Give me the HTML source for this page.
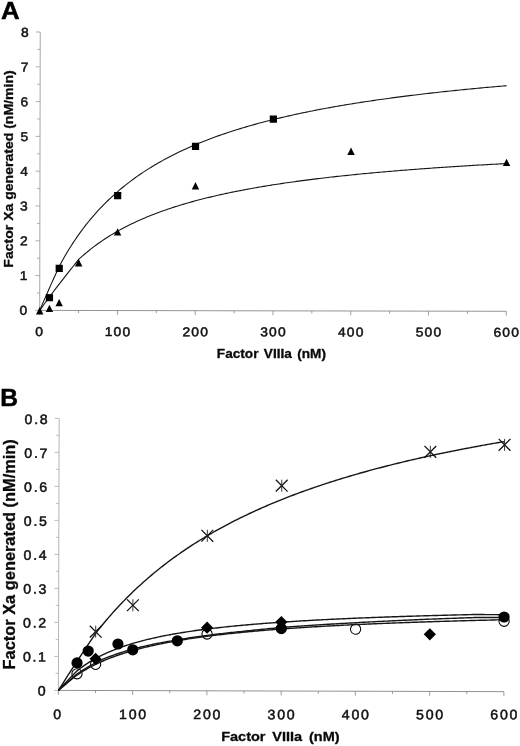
<!DOCTYPE html>
<html lang="en"><head><meta charset="utf-8"><title>Figure</title>
<style>html,body{margin:0;padding:0;background:#fff}svg{display:block}</style></head>
<body>
<svg width="520" height="746" viewBox="0 0 520 746">
<rect width="520" height="746" fill="#fff"/>
<g transform="rotate(0.11 39.7 310.4)">
<g fill="none">
<path d="M39.70 32.00V310.40" stroke="#9c9c9c" stroke-width="0.9"/>
<path d="M39.30 310.40H506.26" stroke="#888" stroke-width="0.9"/>
<path d="M35.30 310.40H39.70M36.80 293.00H39.70M35.30 275.60H39.70M36.80 258.20H39.70M35.30 240.80H39.70M36.80 223.40H39.70M35.30 206.00H39.70M36.80 188.60H39.70M35.30 171.20H39.70M36.80 153.80H39.70M35.30 136.40H39.70M36.80 119.00H39.70M35.30 101.60H39.70M36.80 84.20H39.70M35.30 66.80H39.70M36.80 49.40H39.70M35.30 32.00H39.70" stroke="#9c9c9c" stroke-width="0.8"/>
<path d="M39.70 310.40v4.4M78.58 310.40v2.6M117.46 310.40v4.4M156.34 310.40v2.6M195.22 310.40v4.4M234.10 310.40v2.6M272.98 310.40v4.4M311.86 310.40v2.6M350.74 310.40v4.4M389.62 310.40v2.6M428.50 310.40v4.4M467.38 310.40v2.6M506.26 310.40v4.4" stroke="#888" stroke-width="0.8"/>
</g>
<g font-family="Liberation Sans, Arial, Helvetica, sans-serif">
<text transform="translate(28.45 314.80) scale(1.08 1)" font-size="12.8" text-anchor="end" fill="#111" letter-spacing="1.065" stroke="#111" stroke-width="0.5" stroke-linejoin="round">0</text>
<text transform="translate(28.55 280.05) scale(1.08 1)" font-size="12.8" text-anchor="end" fill="#111" letter-spacing="1.065" stroke="#111" stroke-width="0.5" stroke-linejoin="round">1</text>
<text transform="translate(28.65 245.30) scale(1.08 1)" font-size="12.8" text-anchor="end" fill="#111" letter-spacing="1.065" stroke="#111" stroke-width="0.5" stroke-linejoin="round">2</text>
<text transform="translate(28.75 210.55) scale(1.08 1)" font-size="12.8" text-anchor="end" fill="#111" letter-spacing="1.065" stroke="#111" stroke-width="0.5" stroke-linejoin="round">3</text>
<text transform="translate(28.85 175.80) scale(1.08 1)" font-size="12.8" text-anchor="end" fill="#111" letter-spacing="1.065" stroke="#111" stroke-width="0.5" stroke-linejoin="round">4</text>
<text transform="translate(28.95 141.05) scale(1.08 1)" font-size="12.8" text-anchor="end" fill="#111" letter-spacing="1.065" stroke="#111" stroke-width="0.5" stroke-linejoin="round">5</text>
<text transform="translate(29.05 106.30) scale(1.08 1)" font-size="12.8" text-anchor="end" fill="#111" letter-spacing="1.065" stroke="#111" stroke-width="0.5" stroke-linejoin="round">6</text>
<text transform="translate(29.15 71.55) scale(1.08 1)" font-size="12.8" text-anchor="end" fill="#111" letter-spacing="1.065" stroke="#111" stroke-width="0.5" stroke-linejoin="round">7</text>
<text transform="translate(29.25 36.80) scale(1.08 1)" font-size="12.8" text-anchor="end" fill="#111" letter-spacing="1.065" stroke="#111" stroke-width="0.5" stroke-linejoin="round">8</text>
<text transform="translate(39.78 336.00) scale(1.08 1)" font-size="12.8" text-anchor="middle" fill="#111" letter-spacing="1.065" stroke="#111" stroke-width="0.5" stroke-linejoin="round">0</text>
<text transform="translate(118.03 335.97) scale(1.08 1)" font-size="12.8" text-anchor="middle" fill="#111" letter-spacing="1.065" stroke="#111" stroke-width="0.5" stroke-linejoin="round">100</text>
<text transform="translate(195.79 335.93) scale(1.08 1)" font-size="12.8" text-anchor="middle" fill="#111" letter-spacing="1.065" stroke="#111" stroke-width="0.5" stroke-linejoin="round">200</text>
<text transform="translate(273.56 335.90) scale(1.08 1)" font-size="12.8" text-anchor="middle" fill="#111" letter-spacing="1.065" stroke="#111" stroke-width="0.5" stroke-linejoin="round">300</text>
<text transform="translate(351.31 335.87) scale(1.08 1)" font-size="12.8" text-anchor="middle" fill="#111" letter-spacing="1.065" stroke="#111" stroke-width="0.5" stroke-linejoin="round">400</text>
<text transform="translate(429.07 335.83) scale(1.08 1)" font-size="12.8" text-anchor="middle" fill="#111" letter-spacing="1.065" stroke="#111" stroke-width="0.5" stroke-linejoin="round">500</text>
<text transform="translate(506.83 335.80) scale(1.08 1)" font-size="12.8" text-anchor="middle" fill="#111" letter-spacing="1.065" stroke="#111" stroke-width="0.5" stroke-linejoin="round">600</text>
</g>
<path d="M39.70 310.40L41.64 305.85L43.59 301.34L45.53 296.86L47.48 292.41L49.42 288.00L51.36 283.62L53.31 279.27L55.25 274.94L57.20 270.64L59.14 266.37L61.08 262.73L63.03 259.20L64.97 255.79L66.92 252.47L68.86 249.25L70.80 246.13L72.75 243.10L74.69 240.15L76.64 237.28L78.58 234.50L80.52 231.79L82.47 229.15L84.41 226.58L86.36 224.08L88.30 221.65L90.24 219.27L92.19 216.96L94.13 214.70L96.08 212.50L98.02 210.36L99.96 208.26L101.91 206.21L103.85 204.22L105.80 202.26L107.74 200.36L109.68 198.49L111.63 196.67L113.57 194.89L115.52 193.14L117.46 191.44L119.40 189.77L121.35 188.14L123.29 186.54L125.24 184.97L127.18 183.44L129.12 181.93L131.07 180.46L133.01 179.02L134.96 177.60L136.90 176.21L138.84 174.85L140.79 173.52L142.73 172.21L144.68 170.93L146.62 169.66L148.56 168.43L150.51 167.21L152.45 166.02L154.40 164.85L156.34 163.70L158.28 162.57L160.23 161.46L162.17 160.37L164.12 159.29L166.06 158.24L168.00 157.20L169.95 156.18L171.89 155.18L173.84 154.20L175.78 153.23L177.72 152.27L179.67 151.33L181.61 150.41L183.56 149.50L185.50 148.61L187.44 147.73L189.39 146.86L191.33 146.00L193.28 145.16L195.22 144.34L197.16 143.52L199.11 142.72L201.05 141.92L203.00 141.14L204.94 140.38L206.88 139.62L208.83 138.87L210.77 138.13L212.72 137.41L214.66 136.69L216.60 135.99L218.55 135.29L220.49 134.61L222.44 133.93L224.38 133.26L226.32 132.60L228.27 131.95L230.21 131.31L232.16 130.68L234.10 130.05L236.04 129.44L237.99 128.83L239.93 128.23L241.88 127.64L243.82 127.05L245.76 126.47L247.71 125.90L249.65 125.34L251.60 124.78L253.54 124.23L255.48 123.69L257.43 123.15L259.37 122.62L261.32 122.10L263.26 121.58L265.20 121.07L267.15 120.57L269.09 120.07L271.04 119.57L272.98 119.08L274.92 118.60L276.87 118.13L278.81 117.66L280.76 117.19L282.70 116.73L284.64 116.27L286.59 115.82L288.53 115.38L290.48 114.94L292.42 114.50L294.36 114.07L296.31 113.65L298.25 113.22L300.20 112.81L302.14 112.39L304.08 111.99L306.03 111.58L307.97 111.18L309.92 110.79L311.86 110.40L313.80 110.01L315.75 109.63L317.69 109.25L319.64 108.87L321.58 108.50L323.52 108.13L325.47 107.77L327.41 107.41L329.36 107.05L331.30 106.70L333.24 106.35L335.19 106.00L337.13 105.66L339.08 105.32L341.02 104.98L342.96 104.65L344.91 104.32L346.85 103.99L348.80 103.66L350.74 103.34L352.68 103.03L354.63 102.71L356.57 102.40L358.52 102.09L360.46 101.78L362.40 101.48L364.35 101.18L366.29 100.88L368.24 100.58L370.18 100.29L372.12 100.00L374.07 99.71L376.01 99.43L377.96 99.15L379.90 98.87L381.84 98.59L383.79 98.31L385.73 98.04L387.68 97.77L389.62 97.50L391.56 97.24L393.51 96.97L395.45 96.71L397.40 96.45L399.34 96.20L401.28 95.94L403.23 95.69L405.17 95.44L407.12 95.19L409.06 94.95L411.00 94.70L412.95 94.46L414.89 94.22L416.84 93.98L418.78 93.74L420.72 93.51L422.67 93.28L424.61 93.05L426.56 92.82L428.50 92.59L430.44 92.36L432.39 92.14L434.33 91.92L436.28 91.70L438.22 91.48L440.16 91.26L442.11 91.05L444.05 90.84L446.00 90.62L447.94 90.41L449.88 90.21L451.83 90.00L453.77 89.79L455.72 89.59L457.66 89.39L459.60 89.19L461.55 88.99L463.49 88.79L465.44 88.59L467.38 88.40L469.32 88.20L471.27 88.01L473.21 87.82L475.16 87.63L477.10 87.44L479.04 87.26L480.99 87.07L482.93 86.89L484.88 86.71L486.82 86.52L488.76 86.34L490.71 86.16L492.65 85.99L494.60 85.81L496.54 85.64L498.48 85.46L500.43 85.29L502.37 85.12L504.32 84.95L506.26 84.78" stroke="#161616" stroke-width="1.1" fill="none" stroke-linejoin="round"/>
<path d="M39.70 310.40L41.64 307.66L43.59 304.95L45.53 302.26L47.48 299.59L49.42 296.95L51.36 294.33L53.31 291.73L55.25 289.15L57.20 286.59L59.14 284.05L61.08 281.52L63.03 279.01L64.97 276.51L66.92 274.03L68.86 271.56L70.80 269.10L72.75 266.66L74.69 264.22L76.64 261.80L78.58 259.39L80.52 257.60L82.47 255.85L84.41 254.15L86.36 252.50L88.30 250.89L90.24 249.33L92.19 247.80L94.13 246.31L96.08 244.87L98.02 243.45L99.96 242.08L101.91 240.73L103.85 239.42L105.80 238.14L107.74 236.89L109.68 235.67L111.63 234.48L113.57 233.31L115.52 232.17L117.46 231.06L119.40 229.97L121.35 228.90L123.29 227.86L125.24 226.84L127.18 225.84L129.12 224.86L131.07 223.90L133.01 222.96L134.96 222.04L136.90 221.14L138.84 220.25L140.79 219.39L142.73 218.54L144.68 217.70L146.62 216.89L148.56 216.09L150.51 215.30L152.45 214.53L154.40 213.77L156.34 213.02L158.28 212.29L160.23 211.57L162.17 210.87L164.12 210.18L166.06 209.50L168.00 208.83L169.95 208.17L171.89 207.52L173.84 206.89L175.78 206.26L177.72 205.65L179.67 205.04L181.61 204.45L183.56 203.86L185.50 203.29L187.44 202.72L189.39 202.16L191.33 201.61L193.28 201.07L195.22 200.54L197.16 200.01L199.11 199.50L201.05 198.99L203.00 198.49L204.94 198.00L206.88 197.51L208.83 197.03L210.77 196.56L212.72 196.09L214.66 195.63L216.60 195.18L218.55 194.74L220.49 194.30L222.44 193.86L224.38 193.44L226.32 193.01L228.27 192.60L230.21 192.19L232.16 191.78L234.10 191.38L236.04 190.99L237.99 190.60L239.93 190.22L241.88 189.84L243.82 189.46L245.76 189.10L247.71 188.73L249.65 188.37L251.60 188.02L253.54 187.66L255.48 187.32L257.43 186.98L259.37 186.64L261.32 186.30L263.26 185.97L265.20 185.65L267.15 185.33L269.09 185.01L271.04 184.69L272.98 184.38L274.92 184.08L276.87 183.77L278.81 183.47L280.76 183.18L282.70 182.88L284.64 182.59L286.59 182.31L288.53 182.02L290.48 181.74L292.42 181.47L294.36 181.19L296.31 180.92L298.25 180.65L300.20 180.39L302.14 180.13L304.08 179.87L306.03 179.61L307.97 179.36L309.92 179.10L311.86 178.86L313.80 178.61L315.75 178.37L317.69 178.13L319.64 177.89L321.58 177.65L323.52 177.42L325.47 177.19L327.41 176.96L329.36 176.73L331.30 176.51L333.24 176.28L335.19 176.07L337.13 175.85L339.08 175.63L341.02 175.42L342.96 175.21L344.91 175.00L346.85 174.79L348.80 174.59L350.74 174.38L352.68 174.18L354.63 173.98L356.57 173.78L358.52 173.59L360.46 173.39L362.40 173.20L364.35 173.01L366.29 172.82L368.24 172.63L370.18 172.45L372.12 172.27L374.07 172.08L376.01 171.90L377.96 171.73L379.90 171.55L381.84 171.37L383.79 171.20L385.73 171.03L387.68 170.86L389.62 170.69L391.56 170.52L393.51 170.35L395.45 170.19L397.40 170.02L399.34 169.86L401.28 169.70L403.23 169.54L405.17 169.38L407.12 169.22L409.06 169.07L411.00 168.91L412.95 168.76L414.89 168.61L416.84 168.46L418.78 168.31L420.72 168.16L422.67 168.01L424.61 167.87L426.56 167.72L428.50 167.58L430.44 167.44L432.39 167.30L434.33 167.16L436.28 167.02L438.22 166.88L440.16 166.74L442.11 166.61L444.05 166.47L446.00 166.34L447.94 166.21L449.88 166.08L451.83 165.95L453.77 165.82L455.72 165.69L457.66 165.56L459.60 165.43L461.55 165.31L463.49 165.18L465.44 165.06L467.38 164.94L469.32 164.81L471.27 164.69L473.21 164.57L475.16 164.45L477.10 164.33L479.04 164.22L480.99 164.10L482.93 163.98L484.88 163.87L486.82 163.76L488.76 163.64L490.71 163.53L492.65 163.42L494.60 163.31L496.54 163.20L498.48 163.09L500.43 162.98L502.37 162.87L504.32 162.76L506.26 162.66" stroke="#161616" stroke-width="1.1" fill="none" stroke-linejoin="round"/>
<rect x="45.82" y="294.10" width="7.2" height="7.2" fill="#000"/>
<rect x="55.54" y="264.69" width="7.2" height="7.2" fill="#000"/>
<rect x="113.86" y="191.96" width="7.2" height="7.2" fill="#000"/>
<rect x="191.62" y="142.54" width="7.2" height="7.2" fill="#000"/>
<rect x="269.38" y="115.05" width="7.2" height="7.2" fill="#000"/>
<path d="M39.70 307.05L43.40 314.45H36.00Z" fill="#000"/>
<path d="M49.42 304.61L53.12 312.01H45.72Z" fill="#000"/>
<path d="M59.14 298.87L62.84 306.27H55.44Z" fill="#000"/>
<path d="M78.58 259.02L82.28 266.42H74.88Z" fill="#000"/>
<path d="M117.46 228.05L121.16 235.45H113.76Z" fill="#000"/>
<path d="M195.22 181.77L198.92 189.17H191.52Z" fill="#000"/>
<path d="M350.74 146.97L354.44 154.37H347.04Z" fill="#000"/>
<path d="M506.26 157.76L509.96 165.16H502.56Z" fill="#000"/>
</g>
<g transform="rotate(0.16 58.4 690.4)">
<g fill="none">
<path d="M58.40 418.40V690.40" stroke="#adadad" stroke-width="0.9"/>
<path d="M58.00 690.40H503.90" stroke="#858585" stroke-width="0.9"/>
<path d="M54.00 690.40H58.40M55.50 673.40H58.40M54.00 656.40H58.40M55.50 639.40H58.40M54.00 622.40H58.40M55.50 605.40H58.40M54.00 588.40H58.40M55.50 571.40H58.40M54.00 554.40H58.40M55.50 537.40H58.40M54.00 520.40H58.40M55.50 503.40H58.40M54.00 486.40H58.40M55.50 469.40H58.40M54.00 452.40H58.40M55.50 435.40H58.40M54.00 418.40H58.40" stroke="#adadad" stroke-width="0.8"/>
<path d="M58.40 690.40v4.4M95.53 690.40v2.6M132.65 690.40v4.4M169.78 690.40v2.6M206.90 690.40v4.4M244.03 690.40v2.6M281.15 690.40v4.4M318.27 690.40v2.6M355.40 690.40v4.4M392.52 690.40v2.6M429.65 690.40v4.4M466.77 690.40v2.6M503.90 690.40v4.4" stroke="#858585" stroke-width="0.8"/>
</g>
<g font-family="Liberation Sans, Arial, Helvetica, sans-serif">
<text transform="translate(47.40 695.50) scale(1.04 1)" font-size="13.6" text-anchor="end" fill="#111" letter-spacing="1.635" stroke="#111" stroke-width="0.5" stroke-linejoin="round">0</text>
<text transform="translate(47.55 661.56) scale(1.04 1)" font-size="13.6" text-anchor="end" fill="#111" letter-spacing="1.635" stroke="#111" stroke-width="0.5" stroke-linejoin="round">0.1</text>
<text transform="translate(47.70 627.62) scale(1.04 1)" font-size="13.6" text-anchor="end" fill="#111" letter-spacing="1.635" stroke="#111" stroke-width="0.5" stroke-linejoin="round">0.2</text>
<text transform="translate(47.85 593.69) scale(1.04 1)" font-size="13.6" text-anchor="end" fill="#111" letter-spacing="1.635" stroke="#111" stroke-width="0.5" stroke-linejoin="round">0.3</text>
<text transform="translate(48.00 559.75) scale(1.04 1)" font-size="13.6" text-anchor="end" fill="#111" letter-spacing="1.635" stroke="#111" stroke-width="0.5" stroke-linejoin="round">0.4</text>
<text transform="translate(48.15 525.81) scale(1.04 1)" font-size="13.6" text-anchor="end" fill="#111" letter-spacing="1.635" stroke="#111" stroke-width="0.5" stroke-linejoin="round">0.5</text>
<text transform="translate(48.30 491.88) scale(1.04 1)" font-size="13.6" text-anchor="end" fill="#111" letter-spacing="1.635" stroke="#111" stroke-width="0.5" stroke-linejoin="round">0.6</text>
<text transform="translate(48.45 457.94) scale(1.04 1)" font-size="13.6" text-anchor="end" fill="#111" letter-spacing="1.635" stroke="#111" stroke-width="0.5" stroke-linejoin="round">0.7</text>
<text transform="translate(48.60 424.00) scale(1.04 1)" font-size="13.6" text-anchor="end" fill="#111" letter-spacing="1.635" stroke="#111" stroke-width="0.5" stroke-linejoin="round">0.8</text>
<text transform="translate(58.15 719.00) scale(1.04 1)" font-size="13.6" text-anchor="middle" fill="#111" letter-spacing="1.635" stroke="#111" stroke-width="0.5" stroke-linejoin="round">0</text>
<text transform="translate(133.50 718.85) scale(1.04 1)" font-size="13.6" text-anchor="middle" fill="#111" letter-spacing="1.635" stroke="#111" stroke-width="0.5" stroke-linejoin="round">100</text>
<text transform="translate(207.75 718.70) scale(1.04 1)" font-size="13.6" text-anchor="middle" fill="#111" letter-spacing="1.635" stroke="#111" stroke-width="0.5" stroke-linejoin="round">200</text>
<text transform="translate(282.00 718.55) scale(1.04 1)" font-size="13.6" text-anchor="middle" fill="#111" letter-spacing="1.635" stroke="#111" stroke-width="0.5" stroke-linejoin="round">300</text>
<text transform="translate(356.25 718.40) scale(1.04 1)" font-size="13.6" text-anchor="middle" fill="#111" letter-spacing="1.635" stroke="#111" stroke-width="0.5" stroke-linejoin="round">400</text>
<text transform="translate(430.50 718.25) scale(1.04 1)" font-size="13.6" text-anchor="middle" fill="#111" letter-spacing="1.635" stroke="#111" stroke-width="0.5" stroke-linejoin="round">500</text>
<text transform="translate(504.75 718.10) scale(1.04 1)" font-size="13.6" text-anchor="middle" fill="#111" letter-spacing="1.635" stroke="#111" stroke-width="0.5" stroke-linejoin="round">600</text>
</g>
<circle cx="76.96" cy="673.74" r="5.1" fill="none" stroke="#000" stroke-width="1.05"/>
<circle cx="95.53" cy="664.22" r="5.1" fill="none" stroke="#000" stroke-width="1.05"/>
<circle cx="206.90" cy="633.62" r="5.1" fill="none" stroke="#000" stroke-width="1.05"/>
<circle cx="355.40" cy="628.32" r="5.1" fill="none" stroke="#000" stroke-width="1.05"/>
<circle cx="503.90" cy="620.02" r="5.1" fill="none" stroke="#000" stroke-width="1.05"/>
<path d="M58.40 690.40L60.26 687.44L62.11 684.49L63.97 681.55L65.83 678.63L67.68 675.71L69.54 672.81L71.39 669.92L73.25 667.04L75.11 664.17L76.96 661.30L78.82 658.45L80.67 655.61L82.53 652.78L84.39 649.96L86.24 647.14L88.10 644.34L89.96 641.54L91.81 638.75L93.67 635.97L95.53 633.19L97.38 630.81L99.24 628.46L101.09 626.14L102.95 623.86L104.81 621.62L106.66 619.41L108.52 617.23L110.38 615.09L112.23 612.98L114.09 610.90L115.94 608.84L117.80 606.82L119.66 604.83L121.51 602.87L123.37 600.93L125.22 599.02L127.08 597.14L128.94 595.28L130.79 593.45L132.65 591.65L134.51 589.87L136.36 588.11L138.22 586.38L140.08 584.67L141.93 582.98L143.79 581.31L145.64 579.67L147.50 578.05L149.36 576.45L151.21 574.87L153.07 573.31L154.93 571.77L156.78 570.24L158.64 568.74L160.49 567.26L162.35 565.79L164.21 564.34L166.06 562.91L167.92 561.50L169.78 560.11L171.63 558.73L173.49 557.36L175.34 556.02L177.20 554.69L179.06 553.37L180.91 552.07L182.77 550.79L184.62 549.52L186.48 548.26L188.34 547.02L190.19 545.79L192.05 544.58L193.91 543.38L195.76 542.19L197.62 541.02L199.48 539.86L201.33 538.71L203.19 537.58L205.04 536.45L206.90 535.34L208.76 534.24L210.61 533.16L212.47 532.08L214.33 531.02L216.18 529.96L218.04 528.92L219.89 527.89L221.75 526.87L223.61 525.86L225.46 524.86L227.32 523.87L229.18 522.88L231.03 521.91L232.89 520.95L234.74 520.00L236.60 519.06L238.46 518.13L240.31 517.21L242.17 516.29L244.03 515.39L245.88 514.49L247.74 513.60L249.59 512.72L251.45 511.85L253.31 510.99L255.16 510.13L257.02 509.29L258.88 508.45L260.73 507.62L262.59 506.79L264.44 505.98L266.30 505.17L268.16 504.37L270.01 503.57L271.87 502.79L273.73 502.01L275.58 501.23L277.44 500.47L279.29 499.71L281.15 498.96L283.01 498.21L284.86 497.47L286.72 496.74L288.57 496.02L290.43 495.30L292.29 494.58L294.14 493.87L296.00 493.17L297.86 492.48L299.71 491.79L301.57 491.10L303.43 490.43L305.28 489.75L307.14 489.09L308.99 488.43L310.85 487.77L312.71 487.12L314.56 486.48L316.42 485.84L318.27 485.20L320.13 484.57L321.99 483.95L323.84 483.33L325.70 482.71L327.56 482.10L329.41 481.50L331.27 480.90L333.12 480.30L334.98 479.71L336.84 479.13L338.69 478.55L340.55 477.97L342.41 477.40L344.26 476.83L346.12 476.27L347.98 475.71L349.83 475.15L351.69 474.60L353.54 474.05L355.40 473.51L357.26 472.97L359.11 472.44L360.97 471.91L362.82 471.38L364.68 470.86L366.54 470.34L368.39 469.82L370.25 469.31L372.11 468.81L373.96 468.30L375.82 467.80L377.68 467.30L379.53 466.81L381.39 466.32L383.24 465.84L385.10 465.35L386.96 464.87L388.81 464.40L390.67 463.93L392.52 463.46L394.38 462.99L396.24 462.53L398.09 462.07L399.95 461.61L401.81 461.16L403.66 460.71L405.52 460.26L407.38 459.82L409.23 459.38L411.09 458.94L412.94 458.50L414.80 458.07L416.66 457.64L418.51 457.21L420.37 456.79L422.23 456.37L424.08 455.95L425.94 455.54L427.79 455.12L429.65 454.71L431.51 454.31L433.36 453.90L435.22 453.50L437.07 453.10L438.93 452.70L440.79 452.31L442.64 451.92L444.50 451.53L446.36 451.14L448.21 450.76L450.07 450.38L451.93 450.00L453.78 449.62L455.64 449.25L457.49 448.87L459.35 448.50L461.21 448.14L463.06 447.77L464.92 447.41L466.77 447.05L468.63 446.69L470.49 446.33L472.34 445.98L474.20 445.62L476.06 445.27L477.91 444.92L479.77 444.58L481.62 444.23L483.48 443.89L485.34 443.55L487.19 443.22L489.05 442.88L490.91 442.55L492.76 442.21L494.62 441.88L496.48 441.56L498.33 441.23L500.19 440.91L502.04 440.58L503.90 440.26" stroke="#161616" stroke-width="1.4" fill="none" stroke-linejoin="round"/>
<path d="M58.40 690.40L60.26 688.35L62.11 686.33L63.97 684.33L65.83 682.35L67.68 680.39L69.54 678.45L71.39 676.53L73.25 674.63L75.11 672.74L76.96 670.86L78.82 669.37L80.67 667.94L82.53 666.57L84.39 665.25L86.24 663.98L88.10 662.77L89.96 661.60L91.81 660.47L93.67 659.39L95.53 658.34L97.38 657.33L99.24 656.36L101.09 655.42L102.95 654.51L104.81 653.63L106.66 652.77L108.52 651.95L110.38 651.15L112.23 650.38L114.09 649.63L115.94 648.90L117.80 648.19L119.66 647.51L121.51 646.84L123.37 646.20L125.22 645.57L127.08 644.95L128.94 644.36L130.79 643.78L132.65 643.22L134.51 642.67L136.36 642.13L138.22 641.61L140.08 641.10L141.93 640.61L143.79 640.12L145.64 639.65L147.50 639.19L149.36 638.74L151.21 638.30L153.07 637.87L154.93 637.45L156.78 637.04L158.64 636.64L160.49 636.25L162.35 635.87L164.21 635.49L166.06 635.12L167.92 634.76L169.78 634.41L171.63 634.07L173.49 633.73L175.34 633.40L177.20 633.08L179.06 632.76L180.91 632.45L182.77 632.14L184.62 631.84L186.48 631.55L188.34 631.26L190.19 630.98L192.05 630.70L193.91 630.43L195.76 630.16L197.62 629.90L199.48 629.64L201.33 629.39L203.19 629.14L205.04 628.89L206.90 628.65L208.76 628.42L210.61 628.18L212.47 627.96L214.33 627.73L216.18 627.51L218.04 627.29L219.89 627.08L221.75 626.87L223.61 626.66L225.46 626.46L227.32 626.26L229.18 626.06L231.03 625.87L232.89 625.68L234.74 625.49L236.60 625.30L238.46 625.12L240.31 624.94L242.17 624.76L244.03 624.59L245.88 624.42L247.74 624.25L249.59 624.08L251.45 623.92L253.31 623.75L255.16 623.59L257.02 623.44L258.88 623.28L260.73 623.13L262.59 622.98L264.44 622.83L266.30 622.68L268.16 622.53L270.01 622.39L271.87 622.25L273.73 622.11L275.58 621.97L277.44 621.84L279.29 621.70L281.15 621.57L283.01 621.44L284.86 621.31L286.72 621.18L288.57 621.06L290.43 620.93L292.29 620.81L294.14 620.69L296.00 620.57L297.86 620.45L299.71 620.33L301.57 620.22L303.43 620.10L305.28 619.99L307.14 619.88L308.99 619.77L310.85 619.66L312.71 619.55L314.56 619.45L316.42 619.34L318.27 619.24L320.13 619.14L321.99 619.03L323.84 618.93L325.70 618.83L327.56 618.74L329.41 618.64L331.27 618.54L333.12 618.45L334.98 618.35L336.84 618.26L338.69 618.17L340.55 618.08L342.41 617.99L344.26 617.90L346.12 617.81L347.98 617.72L349.83 617.64L351.69 617.55L353.54 617.47L355.40 617.38L357.26 617.30L359.11 617.22L360.97 617.14L362.82 617.06L364.68 616.98L366.54 616.90L368.39 616.82L370.25 616.74L372.11 616.67L373.96 616.59L375.82 616.52L377.68 616.44L379.53 616.37L381.39 616.29L383.24 616.22L385.10 616.15L386.96 616.08L388.81 616.01L390.67 615.94L392.52 615.87L394.38 615.80L396.24 615.74L398.09 615.67L399.95 615.60L401.81 615.54L403.66 615.47L405.52 615.41L407.38 615.34L409.23 615.28L411.09 615.22L412.94 615.15L414.80 615.09L416.66 615.03L418.51 614.97L420.37 614.91L422.23 614.85L424.08 614.79L425.94 614.73L427.79 614.67L429.65 614.62L431.51 614.56L433.36 614.50L435.22 614.45L437.07 614.39L438.93 614.34L440.79 614.28L442.64 614.23L444.50 614.17L446.36 614.12L448.21 614.07L450.07 614.01L451.93 613.96L453.78 613.91L455.64 613.86L457.49 613.81L459.35 613.76L461.21 613.71L463.06 613.66L464.92 613.61L466.77 613.56L468.63 613.51L470.49 613.46L472.34 613.41L474.20 613.37L476.06 613.37L477.91 613.37L479.77 613.38L481.62 613.38L483.48 613.38L485.34 613.39L487.19 613.39L489.05 613.40L490.91 613.40L492.76 613.41L494.62 613.42L496.48 613.42L498.33 613.51L500.19 613.59L502.04 613.67L503.90 613.75" stroke="#161616" stroke-width="1.4" fill="none" stroke-linejoin="round"/>
<path d="M58.40 690.40L60.26 688.70L62.11 687.01L63.97 685.34L65.83 683.69L67.68 682.04L69.54 680.41L71.39 678.79L73.25 677.18L75.11 675.58L76.96 673.99L78.82 672.69L80.67 671.44L82.53 670.23L84.39 669.05L86.24 667.91L88.10 666.81L89.96 665.74L91.81 664.70L93.67 663.69L95.53 662.72L97.38 661.77L99.24 660.84L101.09 659.94L102.95 659.07L104.81 658.29L106.66 657.54L108.52 656.81L110.38 656.10L112.23 655.40L114.09 654.73L115.94 654.08L117.80 653.44L119.66 652.82L121.51 652.21L123.37 651.62L125.22 651.05L127.08 650.49L128.94 649.94L130.79 649.41L132.65 648.89L134.51 648.39L136.36 647.91L138.22 647.44L140.08 646.97L141.93 646.52L143.79 646.08L145.64 645.65L147.50 645.23L149.36 644.82L151.21 644.42L153.07 644.03L154.93 643.65L156.78 643.27L158.64 642.90L160.49 642.54L162.35 642.19L164.21 641.85L166.06 641.51L167.92 641.18L169.78 640.86L171.63 640.51L173.49 640.17L175.34 639.84L177.20 639.51L179.06 639.19L180.91 638.87L182.77 638.56L184.62 638.26L186.48 637.96L188.34 637.66L190.19 637.37L192.05 637.09L193.91 636.81L195.76 636.54L197.62 636.27L199.48 636.00L201.33 635.74L203.19 635.48L205.04 635.23L206.90 634.98L208.76 634.73L210.61 634.49L212.47 634.25L214.33 634.02L216.18 633.79L218.04 633.56L219.89 633.34L221.75 633.12L223.61 632.90L225.46 632.69L227.32 632.48L229.18 632.27L231.03 632.07L232.89 631.87L234.74 631.67L236.60 631.47L238.46 631.28L240.31 631.09L242.17 630.90L244.03 630.71L245.88 630.50L247.74 630.29L249.59 630.08L251.45 629.88L253.31 629.68L255.16 629.48L257.02 629.28L258.88 629.08L260.73 628.89L262.59 628.69L264.44 628.50L266.30 628.32L268.16 628.13L270.01 627.95L271.87 627.76L273.73 627.58L275.58 627.41L277.44 627.23L279.29 627.05L281.15 626.88L283.01 626.73L284.86 626.58L286.72 626.43L288.57 626.29L290.43 626.14L292.29 626.00L294.14 625.86L296.00 625.72L297.86 625.58L299.71 625.44L301.57 625.31L303.43 625.17L305.28 625.04L307.14 624.91L308.99 624.78L310.85 624.65L312.71 624.52L314.56 624.39L316.42 624.27L318.27 624.15L320.13 624.02L321.99 623.90L323.84 623.78L325.70 623.66L327.56 623.54L329.41 623.43L331.27 623.31L333.12 623.20L334.98 623.08L336.84 622.97L338.69 622.86L340.55 622.75L342.41 622.64L344.26 622.53L346.12 622.43L347.98 622.32L349.83 622.21L351.69 622.11L353.54 622.01L355.40 621.90L357.26 621.79L359.11 621.69L360.97 621.58L362.82 621.47L364.68 621.37L366.54 621.26L368.39 621.16L370.25 621.05L372.11 620.95L373.96 620.85L375.82 620.75L377.68 620.65L379.53 620.55L381.39 620.45L383.24 620.35L385.10 620.25L386.96 620.16L388.81 620.06L390.67 619.97L392.52 619.87L394.38 619.78L396.24 619.69L398.09 619.59L399.95 619.50L401.81 619.41L403.66 619.32L405.52 619.23L407.38 619.14L409.23 619.05L411.09 618.96L412.94 618.88L414.80 618.79L416.66 618.70L418.51 618.62L420.37 618.53L422.23 618.45L424.08 618.36L425.94 618.28L427.79 618.20L429.65 618.12L431.51 618.04L433.36 617.96L435.22 617.89L437.07 617.81L438.93 617.74L440.79 617.66L442.64 617.59L444.50 617.52L446.36 617.44L448.21 617.37L450.07 617.30L451.93 617.23L453.78 617.16L455.64 617.09L457.49 617.02L459.35 616.95L461.21 616.88L463.06 616.81L464.92 616.74L466.77 616.67L468.63 616.60L470.49 616.54L472.34 616.47L474.20 616.40L476.06 616.39L477.91 616.38L479.77 616.38L481.62 616.37L483.48 616.36L485.34 616.35L487.19 616.34L489.05 616.34L490.91 616.33L492.76 616.32L494.62 616.32L496.48 616.31L498.33 616.31L500.19 616.30L502.04 616.30L503.90 616.29" stroke="#161616" stroke-width="1.4" fill="none" stroke-linejoin="round"/>
<path d="M58.40 690.40L60.26 688.80L62.11 687.21L63.97 685.64L65.83 684.09L67.68 682.54L69.54 681.01L71.39 679.49L73.25 677.98L75.11 676.48L76.96 674.99L78.82 673.75L80.67 672.55L82.53 671.40L84.39 670.28L86.24 669.20L88.10 668.15L89.96 667.14L91.81 666.16L93.67 665.21L95.53 664.29L97.38 663.39L99.24 662.53L101.09 661.69L102.95 660.87L104.81 660.07L106.66 659.30L108.52 658.55L110.38 657.82L112.23 657.11L114.09 656.42L115.94 655.74L117.80 655.09L119.66 654.45L121.51 653.82L123.37 653.22L125.22 652.62L127.08 652.04L128.94 651.48L130.79 650.93L132.65 650.39L134.51 649.86L136.36 649.35L138.22 648.85L140.08 648.35L141.93 647.87L143.79 647.40L145.64 646.94L147.50 646.49L149.36 646.05L151.21 645.62L153.07 645.20L154.93 644.79L156.78 644.38L158.64 643.98L160.49 643.59L162.35 643.21L164.21 642.84L166.06 642.47L167.92 642.11L169.78 641.76L171.63 641.41L173.49 641.07L175.34 640.74L177.20 640.41L179.06 640.09L180.91 639.77L182.77 639.46L184.62 639.16L186.48 638.86L188.34 638.56L190.19 638.27L192.05 637.99L193.91 637.71L195.76 637.44L197.62 637.17L199.48 636.90L201.33 636.64L203.19 636.38L205.04 636.13L206.90 635.88L208.76 635.63L210.61 635.39L212.47 635.15L214.33 634.92L216.18 634.69L218.04 634.46L219.89 634.24L221.75 634.02L223.61 633.80L225.46 633.59L227.32 633.38L229.18 633.17L231.03 632.97L232.89 632.77L234.74 632.57L236.60 632.37L238.46 632.18L240.31 631.99L242.17 631.80L244.03 631.61L245.88 631.43L247.74 631.25L249.59 631.07L251.45 630.90L253.31 630.73L255.16 630.56L257.02 630.39L258.88 630.22L260.73 630.06L262.59 629.89L264.44 629.73L266.30 629.58L268.16 629.42L270.01 629.27L271.87 629.11L273.73 628.96L275.58 628.82L277.44 628.67L279.29 628.52L281.15 628.38L283.01 628.24L284.86 628.10L286.72 627.96L288.57 627.83L290.43 627.69L292.29 627.56L294.14 627.43L296.00 627.30L297.86 627.17L299.71 627.04L301.57 626.92L303.43 626.79L305.28 626.67L307.14 626.55L308.99 626.43L310.85 626.31L312.71 626.19L314.56 626.07L316.42 625.96L318.27 625.85L320.13 625.73L321.99 625.62L323.84 625.51L325.70 625.40L327.56 625.29L329.41 625.19L331.27 625.08L333.12 624.98L334.98 624.87L336.84 624.77L338.69 624.67L340.55 624.57L342.41 624.47L344.26 624.37L346.12 624.28L347.98 624.18L349.83 624.08L351.69 623.99L353.54 623.90L355.40 623.80L357.26 623.71L359.11 623.62L360.97 623.53L362.82 623.44L364.68 623.35L366.54 623.27L368.39 623.18L370.25 623.09L372.11 623.01L373.96 622.92L375.82 622.84L377.68 622.76L379.53 622.68L381.39 622.59L383.24 622.51L385.10 622.43L386.96 622.36L388.81 622.28L390.67 622.20L392.52 622.12L394.38 622.05L396.24 621.97L398.09 621.90L399.95 621.82L401.81 621.75L403.66 621.68L405.52 621.60L407.38 621.53L409.23 621.46L411.09 621.39L412.94 621.32L414.80 621.25L416.66 621.18L418.51 621.11L420.37 621.05L422.23 620.98L424.08 620.91L425.94 620.85L427.79 620.78L429.65 620.72L431.51 620.65L433.36 620.59L435.22 620.52L437.07 620.46L438.93 620.40L440.79 620.34L442.64 620.28L444.50 620.22L446.36 620.16L448.21 620.10L450.07 620.04L451.93 619.98L453.78 619.92L455.64 619.86L457.49 619.80L459.35 619.75L461.21 619.69L463.06 619.63L464.92 619.58L466.77 619.52L468.63 619.47L470.49 619.41L472.34 619.36L474.20 619.30L476.06 619.25L477.91 619.20L479.77 619.14L481.62 619.09L483.48 619.04L485.34 618.99L487.19 618.94L489.05 618.89L490.91 618.84L492.76 618.79L494.62 618.74L496.48 618.69L498.33 618.64L500.19 618.59L502.04 618.54L503.90 618.49" stroke="#161616" stroke-width="1.4" fill="none" stroke-linejoin="round"/>
<path d="M95.53 652.68L101.62 658.78L95.53 664.88L89.43 658.78Z" fill="#000"/>
<path d="M206.90 621.20L213.00 627.30L206.90 633.40L200.80 627.30Z" fill="#000"/>
<path d="M281.15 615.28L287.25 621.38L281.15 627.48L275.05 621.38Z" fill="#000"/>
<path d="M429.65 627.18L435.75 633.28L429.65 639.38L423.55 633.28Z" fill="#000"/>
<circle cx="76.96" cy="662.86" r="5.6" fill="#000"/>
<circle cx="88.10" cy="650.96" r="5.6" fill="#000"/>
<circle cx="117.80" cy="643.82" r="5.6" fill="#000"/>
<circle cx="132.65" cy="649.60" r="5.6" fill="#000"/>
<circle cx="177.20" cy="640.49" r="5.6" fill="#000"/>
<circle cx="281.15" cy="627.91" r="5.6" fill="#000"/>
<circle cx="503.90" cy="615.77" r="5.6" fill="#000"/>
<path d="M89.62 625.68L101.43 637.48M89.62 637.48L101.43 625.68" stroke="#111" stroke-width="1.25" fill="none"/>
<path d="M95.53 625.58V637.58" stroke="#222" stroke-width="0.9" fill="none"/>
<path d="M126.75 599.16L138.55 610.96M126.75 610.96L138.55 599.16" stroke="#111" stroke-width="1.25" fill="none"/>
<path d="M132.65 599.06V611.06" stroke="#222" stroke-width="0.9" fill="none"/>
<path d="M201.00 529.46L212.80 541.26M201.00 541.26L212.80 529.46" stroke="#111" stroke-width="1.25" fill="none"/>
<path d="M206.90 529.36V541.36" stroke="#222" stroke-width="0.9" fill="none"/>
<path d="M275.25 479.14L287.05 490.94M275.25 490.94L287.05 479.14" stroke="#111" stroke-width="1.25" fill="none"/>
<path d="M281.15 479.04V491.04" stroke="#222" stroke-width="0.9" fill="none"/>
<path d="M423.75 444.90L435.55 456.70M423.75 456.70L435.55 444.90" stroke="#111" stroke-width="1.25" fill="none"/>
<path d="M429.65 444.80V456.80" stroke="#222" stroke-width="0.9" fill="none"/>
<path d="M498.00 437.66L509.80 449.46M498.00 449.46L509.80 437.66" stroke="#111" stroke-width="1.25" fill="none"/>
<path d="M503.90 437.56V449.56" stroke="#222" stroke-width="0.9" fill="none"/>
</g>
<g font-family="Liberation Sans, Arial, Helvetica, sans-serif">
<text transform="translate(1.00 19.10) scale(1.05 1)" font-size="24.6" text-anchor="start" font-weight="bold" fill="#000" stroke="#000" stroke-width="0.5" stroke-linejoin="round">A</text>
<text transform="translate(0.30 406.10) scale(1.0 1)" font-size="24.6" text-anchor="start" font-weight="bold" fill="#000" stroke="#000" stroke-width="0.5" stroke-linejoin="round">B</text>
<text transform="translate(271.40 358.30) scale(1.09 1)" font-size="12.5" text-anchor="middle" font-weight="bold" fill="#0a0a0a" word-spacing="1.468" stroke="#0a0a0a" stroke-width="0.3" stroke-linejoin="round">Factor VIIIa (nM)</text>
<text transform="translate(280.40 741.40) scale(1.1 1)" font-size="13.2" text-anchor="middle" font-weight="bold" fill="#0a0a0a" word-spacing="2.545" stroke="#0a0a0a" stroke-width="0.3" stroke-linejoin="round">Factor VIIIa (nM)</text>
<text transform="translate(12.50 169.00) rotate(-90) translate(0.00 0) scale(1.04 1)" font-size="13.5" text-anchor="middle" font-weight="bold" fill="#0a0a0a" stroke="#0a0a0a" stroke-width="0.3" stroke-linejoin="round">Factor Xa generated (nM/min)</text>
<text transform="translate(14.90 554.30) rotate(-90) translate(0.00 0) scale(1.006 1)" font-size="16.3" text-anchor="middle" font-weight="bold" fill="#0a0a0a" stroke="#0a0a0a" stroke-width="0.3" stroke-linejoin="round">Factor Xa generated (nM/min)</text>
</g>
</svg>
</body></html>
